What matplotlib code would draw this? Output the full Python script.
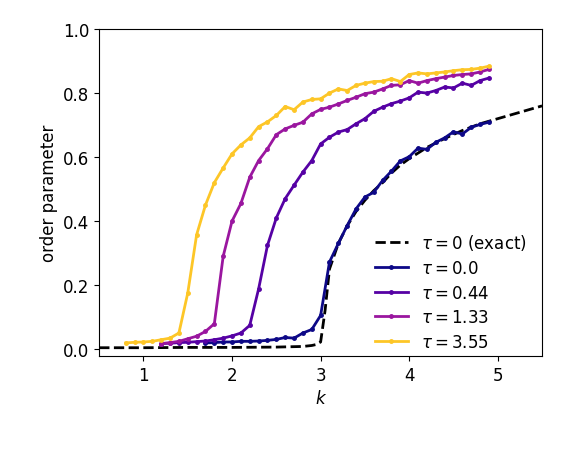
import numpy as np
import matplotlib
matplotlib.use("Agg")
import matplotlib.pyplot as plt

# exact (tau = 0) curve
k_exact = [0.5, 1.0, 1.5, 2.0, 2.5, 2.8, 2.9, 2.95, 3.0, 3.05, 3.1, 3.2, 3.3, 3.4, 3.5,
           3.6, 3.7, 3.8, 3.9, 4.0, 4.2, 4.4, 4.6, 4.8, 5.0, 5.2, 5.4, 5.5]
r_exact = [0.004, 0.004, 0.005, 0.005, 0.006, 0.008, 0.011, 0.014, 0.022, 0.12, 0.25, 0.33,
           0.385, 0.43, 0.465, 0.495, 0.52, 0.55, 0.575, 0.595, 0.63, 0.658, 0.683, 0.704,
           0.72, 0.736, 0.752, 0.76]

k_tau0 = np.round(np.arange(1.7, 4.95, 0.1), 1)
r_tau0 = [0.019, 0.02, 0.022, 0.022, 0.024, 0.024, 0.025, 0.027, 0.03, 0.036, 0.034, 0.05,
          0.061, 0.105, 0.272, 0.33, 0.386, 0.438, 0.475, 0.49, 0.527, 0.556, 0.588, 0.601,
          0.628, 0.624, 0.646, 0.66, 0.679, 0.672, 0.693, 0.702, 0.709]

k_tau044 = np.round(np.arange(1.2, 4.95, 0.1), 1)
r_tau044 = [0.017, 0.018, 0.02, 0.021, 0.023, 0.025, 0.029, 0.034, 0.041, 0.05, 0.074, 0.188,
            0.324, 0.41, 0.47, 0.512, 0.553, 0.589, 0.641, 0.662, 0.678, 0.686, 0.704, 0.72,
            0.743, 0.756, 0.767, 0.775, 0.785, 0.803, 0.80, 0.808, 0.819, 0.816, 0.831, 0.824,
            0.839, 0.847]

k_tau133 = np.round(np.arange(1.2, 4.95, 0.1), 1)
r_tau133 = [0.017, 0.02, 0.024, 0.032, 0.04, 0.055, 0.079, 0.29, 0.40, 0.455, 0.537, 0.589,
            0.626, 0.67, 0.688, 0.699, 0.709, 0.735, 0.749, 0.756, 0.766, 0.777, 0.787, 0.798,
            0.803, 0.813, 0.824, 0.826, 0.839, 0.831, 0.839, 0.845, 0.85, 0.855, 0.858, 0.86,
            0.866, 0.874]

k_tau355 = np.round(np.arange(0.8, 4.95, 0.1), 1)
r_tau355 = [0.019, 0.021, 0.022, 0.024, 0.029, 0.034, 0.05, 0.175, 0.357, 0.45, 0.52, 0.566,
            0.61, 0.638, 0.66, 0.695, 0.71, 0.73, 0.758, 0.748, 0.772, 0.78, 0.782, 0.80,
            0.813, 0.808, 0.824, 0.831, 0.836, 0.837, 0.845, 0.836, 0.858, 0.863, 0.86, 0.863,
            0.866, 0.87, 0.873, 0.874, 0.878, 0.884]

series = [
    (k_tau0, r_tau0, r"$\tau = 0.0$", 0.0),
    (k_tau044, r_tau044, r"$\tau = 0.44$", 0.15),
    (k_tau133, r_tau133, r"$\tau = 1.33$", 0.33),
    (k_tau355, r_tau355, r"$\tau = 3.55$", 0.88),
]

fig = plt.figure(figsize=(5.7, 4.56), dpi=100)
ax = fig.add_axes([0.174, 0.217, 0.777, 0.717])

ax.plot(k_exact, r_exact, "k--", lw=2, label=r"$\tau = 0$ (exact)")
for k, r, lab, c in series:
    ax.plot(k, r, "-o", color=plt.cm.plasma(c), lw=2, ms=2.5, label=lab)

ax.set_xlim(0.5, 5.5)
ax.set_ylim(-0.022, 1.0)
ax.set_xticks([1, 2, 3, 4, 5])
ax.set_yticks(np.arange(0, 1.01, 0.2))
ax.tick_params(labelsize=12)
ax.set_xlabel(r"$k$", fontsize=12)
ax.set_ylabel("order parameter", fontsize=12)
ax.legend(loc="lower right", bbox_to_anchor=(1.0, -0.03), frameon=False,
          fontsize=12, labelspacing=0.4)

fig.savefig("out.png", dpi=100)
